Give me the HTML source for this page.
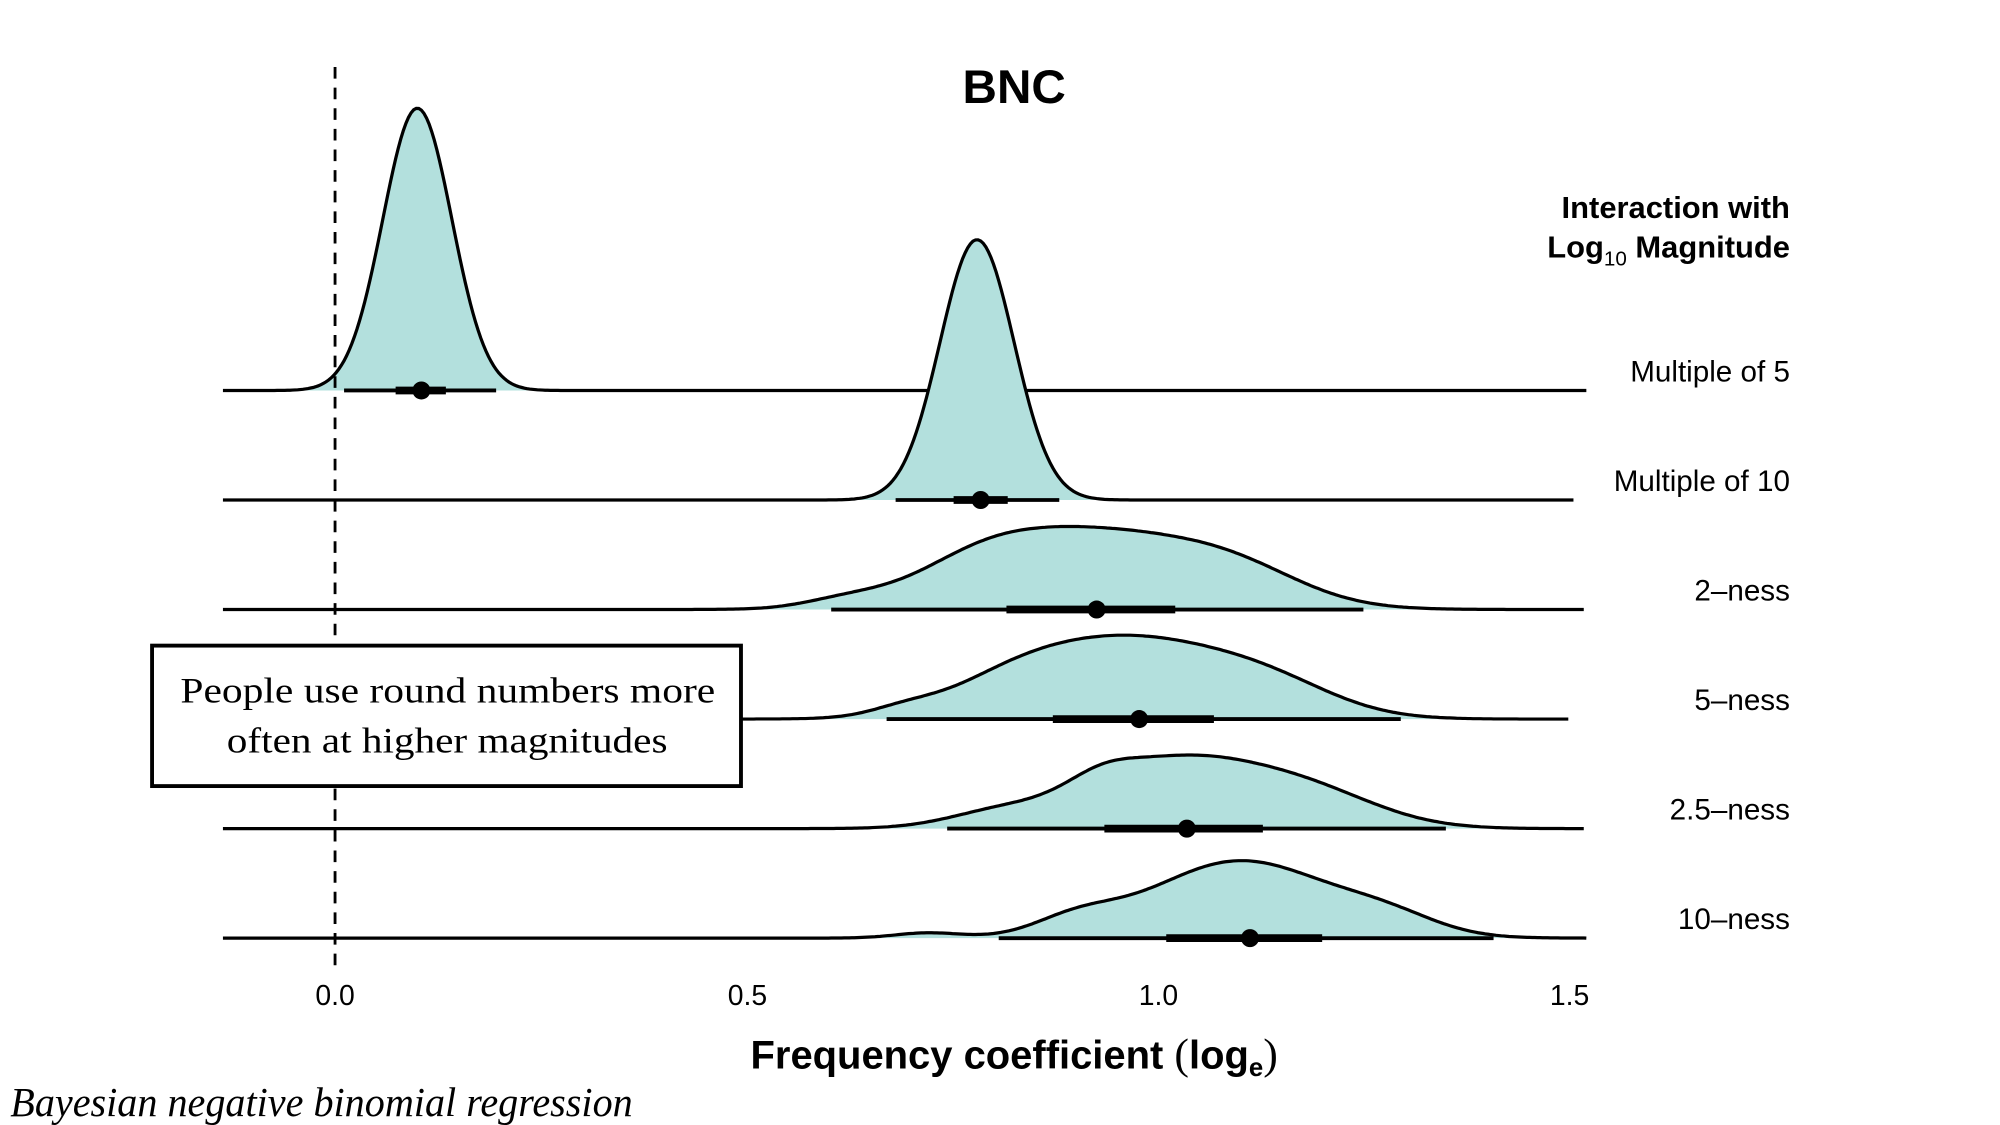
<!DOCTYPE html>
<html><head><meta charset="utf-8"><style>
html,body{margin:0;padding:0;background:#fff;width:2000px;height:1125px;overflow:hidden}
svg{display:block}
</style></head><body>
<svg id="s" width="2000" height="1125" viewBox="0 0 1552 873" preserveAspectRatio="none" xmlns="http://www.w3.org/2000/svg">
<g id="curves"></g>
<line x1="260" y1="52" x2="260" y2="752" stroke="#000" stroke-width="2.2" stroke-dasharray="9,7"/>
<g id="ints"></g>
<rect x="118" y="501" width="457" height="109" fill="#fff" stroke="#000" stroke-width="3"/>
<text x="140" y="545" textLength="415" lengthAdjust="spacingAndGlyphs" font-family="Liberation Serif, serif" font-size="28">People use round numbers more</text>
<text x="176" y="584" textLength="342" lengthAdjust="spacingAndGlyphs" font-family="Liberation Serif, serif" font-size="28">often at higher magnitudes</text>
<text x="787" y="80" text-anchor="middle" font-family="Liberation Sans, sans-serif" font-size="37" font-weight="bold">BNC</text>
<g font-family="Liberation Sans, sans-serif" font-size="23" text-anchor="end">
<text x="1389" y="169" font-weight="bold" font-size="24">Interaction with</text>
<text x="1389" y="200" font-weight="bold" font-size="24">Log<tspan font-size="16" font-weight="normal" dy="6">10</tspan><tspan dy="-6"> Magnitude</tspan></text>
<text x="1389" y="296">Multiple of 5</text>
<text x="1389" y="381">Multiple of 10</text>
<text x="1389" y="466">2–ness</text>
<text x="1389" y="551">5–ness</text>
<text x="1389" y="636">2.5–ness</text>
<text x="1389" y="721">10–ness</text>
</g>
<g font-family="Liberation Sans, sans-serif" font-size="22" text-anchor="middle">
<text x="260" y="780">0.0</text><text x="580" y="780">0.5</text><text x="899" y="780">1.0</text><text x="1218" y="780">1.5</text>
</g>
<text x="787" y="829" text-anchor="middle" font-family="Liberation Sans, sans-serif" font-size="31" font-weight="bold">Frequency coefficient <tspan font-weight="normal" font-family="Liberation Serif, serif" font-size="34">(</tspan>log<tspan font-size="20" dy="6">e</tspan><tspan dy="-6" font-weight="normal" font-family="Liberation Serif, serif" font-size="34">)</tspan></text>
<text x="8" y="866" textLength="483" lengthAdjust="spacingAndGlyphs" font-family="Liberation Serif, serif" font-style="italic" font-size="32">Bayesian negative binomial regression</text>
</svg>
<script>
var rows=[
 {b:303,end:1232,comps:[[0.1,0.042,219]]},
 {b:388,end:1222,comps:[[0.78,0.045,202]]},
 {b:473,end:1229,comps:[[0.93,0.13,58],[0.78,0.08,22],[1.1,0.08,18],[0.62,0.05,6]]},
 {b:558,end:1217,comps:[[0.97,0.12,60],[0.82,0.08,18],[1.14,0.08,18],[0.69,0.04,5]]},
 {b:643,end:1230,comps:[[1.03,0.12,55],[0.93,0.04,10],[1.2,0.08,15],[0.8,0.06,8]]},
 {b:728,end:1232,comps:[[1.1,0.11,60],[0.9,0.05,12],[1.28,0.06,12],[0.72,0.04,4]]}
];
var ints=[[267,385,307,346,327],[695,822,740,782,761],[645,1058,781,912,851],[688,1087,817,942,884],[735,1122,857,980,921],[775,1159,905,1026,970]];
var cg=document.getElementById('curves'),ig=document.getElementById('ints'),ns='http://www.w3.org/2000/svg';
rows.forEach(function(r){
 var pts=[];
 for(var px=173;px<=r.end;px+=2){var v=(px-260)/638.7,h=0;
  r.comps.forEach(function(c){h+=c[2]*Math.exp(-0.5*Math.pow((v-c[0])/c[1],2))});
  pts.push(px+','+(r.b-h).toFixed(1));}
 var d='M'+pts.join(' L');
 var f=document.createElementNS(ns,'path');f.setAttribute('d',d+' L'+r.end+','+r.b+' L173,'+r.b+'Z');f.setAttribute('fill','#b3e0dd');cg.appendChild(f);
 var l=document.createElementNS(ns,'path');l.setAttribute('d',d);l.setAttribute('fill','none');l.setAttribute('stroke','#000');l.setAttribute('stroke-width','2.5');cg.appendChild(l);
});
ints.forEach(function(t,i){var y=rows[i].b;
 ig.innerHTML+='<line x1="'+t[0]+'" x2="'+t[1]+'" y1="'+y+'" y2="'+y+'" stroke="#000" stroke-width="3"/>'+
 '<line x1="'+t[2]+'" x2="'+t[3]+'" y1="'+y+'" y2="'+y+'" stroke="#000" stroke-width="6"/>'+
 '<circle cx="'+t[4]+'" cy="'+y+'" r="7" fill="#000"/>';
});
</script>
</body></html>
